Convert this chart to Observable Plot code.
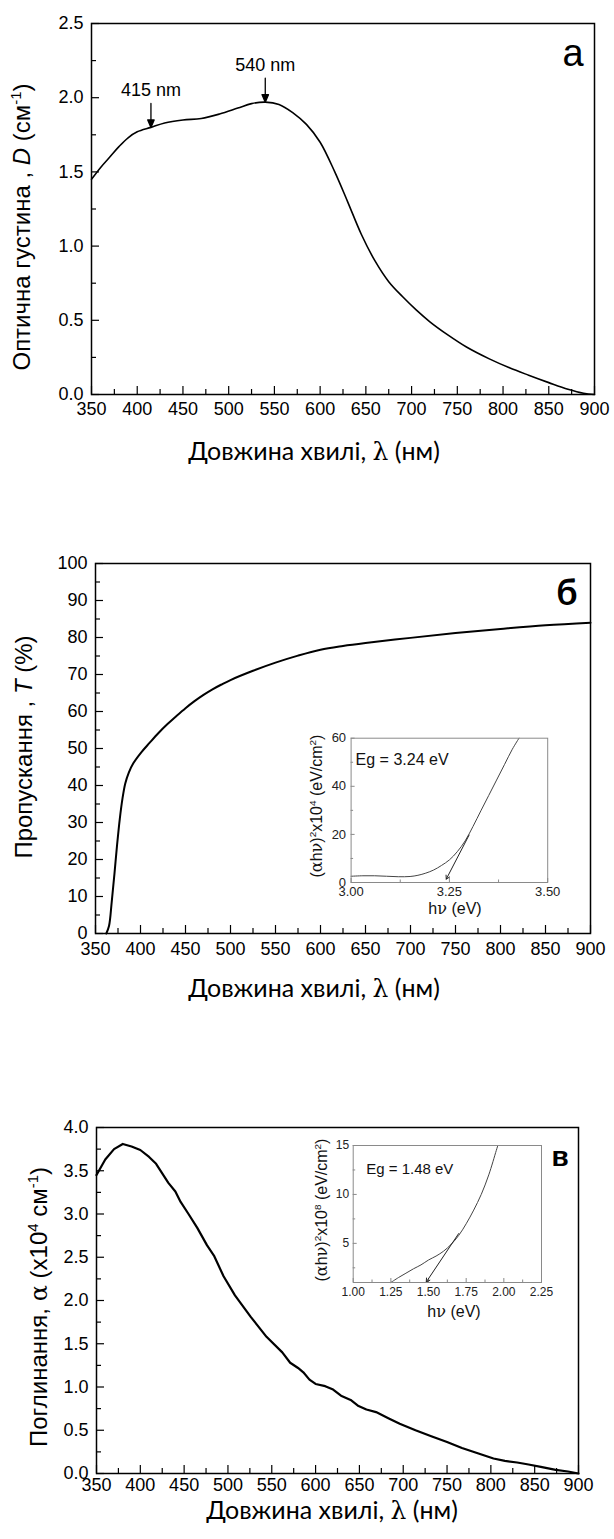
<!DOCTYPE html>
<html><head><meta charset="utf-8">
<script src="https://cdn.jsdelivr.net/npm/d3@7"></script>
<script src="https://cdn.jsdelivr.net/npm/@observablehq/plot@0.6"></script>
<style>
body{margin:0;background:#fff;}
#root{position:relative;width:614px;height:1539px;overflow:hidden;font-family:"Liberation Sans",Arial,sans-serif;background:#fff;}
.lbl{position:absolute;white-space:nowrap;transform:translate(-50%,-50%);color:#000;line-height:1;}
.rot{transform:translate(-50%,-50%) rotate(-90deg);}
.gr{font-family:"DejaVu Serif",serif;}
.lato{font-family:Lato,"Open Sans",sans-serif;}
sup{font-size:0.62em;vertical-align:0;position:relative;top:-0.62em;line-height:0;}
</style></head><body><div id="root"></div>
<script>
// ---------- data ----------
// panel a: optical density vs wavelength
const wlA = [350,360,370,380,390,400,415,430,450,470,490,510,525,540,555,570,585,600,616,630,645,660,675,690,705,720,740,760,785,807,828,850,871,888,900];
const odA = [1.45,1.53,1.60,1.67,1.73,1.77,1.80,1.83,1.85,1.86,1.89,1.93,1.96,1.97,1.955,1.90,1.82,1.70,1.50,1.30,1.08,0.90,0.76,0.66,0.57,0.49,0.40,0.32,0.24,0.18,0.13,0.08,0.035,0.008,0.0];
const peakWl = [415, 540];
const peakOd = [1.80, 1.97];
const peakLabels = ["415 nm", "540 nm"];

// panel б: transmission
const wlB = [362,365,368,371,374,377,380,383,387,392,400,410,420,430,440,450,460,470,480,490,500,525,550,575,600,625,650,700,750,800,850,900];
const trB = [0,2,8.5,16,24,31,36.5,40.5,43.5,46,48.7,51.5,54.2,56.6,58.8,60.9,62.8,64.5,66.0,67.3,68.5,71.0,73.2,75.1,76.7,77.7,78.5,79.9,81.2,82.3,83.3,84.0];
// inset б: Tauc plot
const evB = [3.00,3.03,3.06,3.09,3.12,3.15,3.17,3.19,3.21,3.23,3.25,3.27,3.29,3.31,3.33,3.35,3.37,3.39,3.41,3.427];
const taucB = [2.6,2.8,2.8,2.6,2.4,2.5,3.0,3.9,5.2,7.1,9.4,12.8,17.3,23.3,29.8,36.2,42.6,49.0,55.4,60.0];
const tangentB = [{x1: 3.30, y1: 19.7, x2: 3.242, y2: 1.4}];

// panel в: absorption
const wlC = [350,360,370,380,390,400,410,418,425,432,440,446,455,465,476,484,495,508,526,544,562,571,580,586,593,600,611,620,629,640,649,658,669,683,696,714,732,750,767,785,803,816,830,843,857,874,888,900];
const absC = [3.45,3.63,3.75,3.81,3.78,3.74,3.66,3.58,3.47,3.36,3.26,3.14,3.00,2.84,2.64,2.52,2.28,2.06,1.81,1.58,1.40,1.28,1.22,1.17,1.085,1.035,1.01,0.97,0.90,0.85,0.78,0.74,0.71,0.64,0.575,0.50,0.43,0.364,0.295,0.234,0.173,0.146,0.127,0.104,0.077,0.042,0.023,0.0];
// inset в
const evC = [1.25,1.30,1.35,1.40,1.45,1.50,1.55,1.60,1.65,1.70,1.75,1.80,1.85,1.90,1.95,1.96];
const taucC = [1.0,1.5,1.95,2.4,2.8,3.3,3.7,4.2,4.9,5.8,7.0,8.4,10.0,12.0,14.5,15.0];
const tangentC = [{x1: 1.70, y1: 6.0, x2: 1.485, y2: 1.05}];

// ticks
const wlTicks = [350,400,450,500,550,600,650,700,750,800,850,900];
const wlMinor = [375,425,475,525,575,625,675,725,775,825,875];
const yTicksA = [0,0.5,1.0,1.5,2.0,2.5];
const yMinorA = [0.25,0.75,1.25,1.75,2.25];
const yTicksB = [0,10,20,30,40,50,60,70,80,90,100];
const yMinorB = [5,15,25,35,45,55,65,75,85,95];
const yTicksC = [0,0.5,1.0,1.5,2.0,2.5,3.0,3.5,4.0];
const yMinorC = [0.25,0.75,1.25,1.75,2.25,2.75,3.25,3.75];
const xTicksIB = [3.00,3.25,3.50];
const xMinorIB = [3.125,3.375];
const yTicksIB = [0,20,40,60];
const yMinorIB = [10,30,50];
const xTicksIC = [1.00,1.25,1.50,1.75,2.00,2.25];
const xMinorIC = [1.125,1.375,1.625,1.875,2.125];
const yTicksIC = [5,10,15];
const yMinorIC = [2.5,7.5,12.5];

// ---------- helpers ----------
const root = document.getElementById("root");
const f1 = d3.format(".1f"), f2 = d3.format(".2f"), f0 = d3.format("d");

function panel(o) {
  const innerW = o.width - o.ml - o.mr, innerH = o.height - o.mt - o.mb;
  const tc = o.tickColor || "#000";
  const marks = [
    Plot.ruleX(o.xMinor, {x: d => d, insetTop: innerH - o.minor, stroke: tc, strokeWidth: o.tickW}),
    Plot.ruleX(o.xTicks, {x: d => d, insetTop: innerH - o.major, stroke: tc, strokeWidth: o.tickW}),
    Plot.ruleY(o.yMinor, {y: d => d, insetRight: innerW - o.minor, stroke: tc, strokeWidth: o.tickW}),
    Plot.ruleY(o.yTicks, {y: d => d, insetRight: innerW - o.major, stroke: tc, strokeWidth: o.tickW}),
    Plot.axisX(o.xTicks, {tickSize: 0, tickPadding: o.xPad, tickFormat: o.xFmt, label: null, fontSize: o.fs}),
    Plot.axisY(o.yTicks, {tickSize: 0, tickPadding: o.yPad, tickFormat: o.yFmt, label: null, fontSize: o.fs}),
    ...o.marks,
    Plot.frame({stroke: o.frameColor || "#000", strokeWidth: o.frameW})
  ];
  const svg = Plot.plot({
    width: o.width, height: o.height,
    marginTop: o.mt, marginBottom: o.mb, marginLeft: o.ml, marginRight: o.mr,
    x: {domain: o.xDomain, label: null},
    y: {domain: o.yDomain, label: null},
    style: {fontFamily: '"Liberation Sans", Arial, sans-serif', fontSize: o.fs + "px", color: o.textColor || "#000", background: "transparent", overflow: "visible"},
    marks
  });
  svg.style.position = "absolute";
  svg.style.left = o.left + "px";
  svg.style.top = o.top + "px";
  root.appendChild(svg);
}

function label(html, x, y, size, opts = {}) {
  const d = document.createElement("div");
  d.className = "lbl" + (opts.rot ? " rot" : "") + (opts.cls ? " " + opts.cls : "");
  d.innerHTML = html;
  d.style.left = x + "px";
  d.style.top = y + "px";
  d.style.fontSize = size + "px";
  if (opts.weight) d.style.fontWeight = opts.weight;
  if (opts.color) d.style.color = opts.color;
  root.appendChild(d);
}

const downArrow = {
  draw(ctx, l) {
    ctx.moveTo(0, -7); ctx.lineTo(0, -l);
    ctx.moveTo(0, 0); ctx.lineTo(-3.2, -7.5); ctx.lineTo(3.2, -7.5); ctx.closePath();
  }
};

// ---------- panel a ----------
panel({
  left: 0, top: 0, width: 614, height: 470, ml: 91, mr: 20, mt: 23, mb: 76,
  xDomain: [350, 900], yDomain: [0, 2.5],
  xTicks: wlTicks, xMinor: wlMinor, yTicks: yTicksA, yMinor: yMinorA,
  major: 8, minor: 5, tickW: 1.2, xPad: 8, yPad: 8, fs: 18, frameW: 1.5,
  xFmt: f0, yFmt: f1,
  marks: [
    Plot.line(wlA, {x: wlA, y: odA, curve: "catmull-rom", stroke: "#000", strokeWidth: 1.6}),
    Plot.vector(peakWl, {x: peakWl, y: peakOd, length: 24, anchor: "start", shape: downArrow, stroke: "#000", fill: "#000", strokeWidth: 1.3}),
    Plot.text(peakLabels, {x: peakWl, y: peakOd, text: d => d, dy: -37, fontSize: 18})
  ]
});
label("Оптична густина , <i>D</i> (см<sup>-1</sup>)", 21.5, 227, 24, {rot: true});
label("Довжина хвилі, <span class='gr'>λ</span> (нм)", 314, 451, 25, {cls: "lato"});
label("a", 573, 53, 38);

// ---------- panel б ----------
panel({
  left: 0, top: 500, width: 614, height: 470, ml: 95, mr: 24, mt: 63, mb: 37,
  xDomain: [350, 900], yDomain: [0, 100],
  xTicks: wlTicks, xMinor: wlMinor, yTicks: yTicksB, yMinor: yMinorB,
  major: 8, minor: 5, tickW: 1.2, xPad: 9, yPad: 8, fs: 18, frameW: 1.5,
  xFmt: f0, yFmt: f0,
  marks: [
    Plot.line(wlB, {x: wlB, y: trB, curve: "catmull-rom", stroke: "#000", strokeWidth: 2})
  ]
});
label("Пропускання , <i>T</i> (%)", 23.5, 747, 24, {rot: true});
label("Довжина хвилі, <span class='gr'>λ</span> (нм)", 314, 988, 25, {cls: "lato"});
label("б", 567, 591, 36, {cls: "lato", weight: 700});

// inset б
panel({
  left: 290, top: 720, width: 270, height: 200, ml: 60.6, mr: 12.8, mt: 17.7, mb: 38,
  xDomain: [3.0, 3.5], yDomain: [0, 60],
  xTicks: xTicksIB, xMinor: xMinorIB, yTicks: yTicksIB, yMinor: yMinorIB,
  major: 4, minor: 2.5, tickW: 1, xPad: 4, yPad: 5, fs: 13, frameW: 1,
  frameColor: "#8a8a8a", tickColor: "#8a8a8a", textColor: "#222",
  xFmt: f2, yFmt: f0,
  marks: [
    Plot.line(evB, {x: evB, y: taucB, curve: "catmull-rom", stroke: "#444", strokeWidth: 1}),
    Plot.arrow(tangentB, {x1: "x1", y1: "y1", x2: "x2", y2: "y2", stroke: "#222", strokeWidth: 1, headLength: 6}),
    Plot.text(["Eg = 3.24 eV"], {frameAnchor: "top-left", text: d => d, textAnchor: "start", dx: 4.5, dy: 15.5, fontSize: 16, fill: "#111"})
  ]
});
label("(<span class='gr'>α</span>h<span class='gr'>ν</span>)<sup>2</sup>x10<sup>4</sup> (eV/cm<sup>2</sup>)", 316.7, 806, 16, {rot: true, color: "#111"});
label("h<span class='gr'>ν</span> (eV)", 455, 909, 16, {color: "#111"});

// ---------- panel в ----------
panel({
  left: 0, top: 1040, width: 614, height: 499, ml: 96, mr: 36, mt: 87, mb: 66,
  xDomain: [350, 900], yDomain: [0, 4],
  xTicks: wlTicks, xMinor: wlMinor, yTicks: yTicksC, yMinor: yMinorC,
  major: 8, minor: 5, tickW: 1.2, xPad: 5, yPad: 8, fs: 18, frameW: 1.5,
  xFmt: f0, yFmt: f1,
  marks: [
    Plot.line(wlC, {x: wlC, y: absC, stroke: "#000", strokeWidth: 2.2, strokeLinejoin: "round"})
  ]
});
label("Поглинання, <span class='gr'>α</span> (x10<sup>4</sup> см<sup>-1</sup>)", 39, 1307, 24, {rot: true});
label("Довжина хвилі, <span class='gr'>λ</span> (нм)", 332, 1510, 25, {cls: "lato"});
label("в", 560, 1157, 28, {weight: 700});

// inset в
panel({
  left: 290, top: 1128, width: 270, height: 190, ml: 62.7, mr: 19, mt: 17, mb: 36,
  xDomain: [1.0, 2.25], yDomain: [1, 15],
  xTicks: xTicksIC, xMinor: xMinorIC, yTicks: yTicksIC, yMinor: yMinorIC,
  major: 4, minor: 2.5, tickW: 1, xPad: 5, yPad: 4, fs: 12, frameW: 1,
  frameColor: "#8a8a8a", tickColor: "#8a8a8a", textColor: "#222",
  xFmt: f2, yFmt: f0,
  marks: [
    Plot.line(evC, {x: evC, y: taucC, curve: "catmull-rom", stroke: "#444", strokeWidth: 1}),
    Plot.arrow(tangentC, {x1: "x1", y1: "y1", x2: "x2", y2: "y2", stroke: "#222", strokeWidth: 1, headLength: 6}),
    Plot.text(["Eg = 1.48 eV"], {frameAnchor: "top-left", text: d => d, textAnchor: "start", dx: 13, dy: 18, fontSize: 15, fill: "#111"})
  ]
});
label("(<span class='gr'>α</span>h<span class='gr'>ν</span>)<sup>2</sup>x10<sup>8</sup> (eV/cm<sup>2</sup>)", 321.7, 1210, 16, {rot: true, color: "#111"});
label("h<span class='gr'>ν</span> (eV)", 454, 1312, 16, {color: "#111"});
</script></body></html>
